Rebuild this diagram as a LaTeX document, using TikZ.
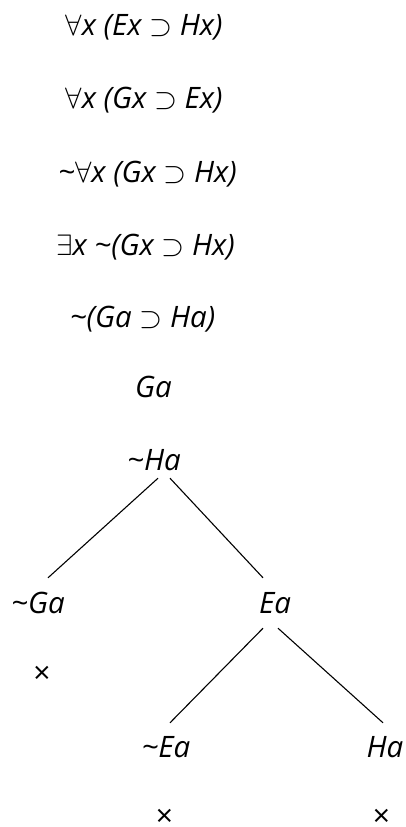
\RequirePackage{fix-cm}
\documentclass[tikz,border=0pt]{standalone}
\usepackage{fontspec}
\setmainfont{Open Sans}
\usepackage{tikz}
\usetikzlibrary{calc}

\begin{document}
\begin{tikzpicture}[x=1pt,y=-1pt,
  line/.style={anchor=base,inner sep=0pt,font=\fontsize{29.5}{35}\selectfont\itshape},
  branch/.style={line,text height=21pt,text depth=0pt},
  closed/.style={anchor=center,inner sep=0pt,font=\fontsize{30}{35}\selectfont},
  edge/.style={black,line width=1.1pt}]
  \useasboundingbox (0,0) rectangle (406,827);
  % the premises and the denied conclusion
  \node[line] (l1) at (144,35)  {$\forall$x (Ex $\supset$ Hx)};
  \node[line] (l2) at (144,108) {$\forall$x (Gx $\supset$ Ex)};
  \node[line] (l3) at (147.5,182) {\textasciitilde$\forall$x (Gx $\supset$ Hx)};
  \node[line] (l4) at (145.5,255) {$\exists$x \textasciitilde(Gx $\supset$ Hx)};
  \node[line] (l5) at (142.5,327) {\textasciitilde(Ga $\supset$ Ha)};
  \node[line] (l6) at (153.5,397) {Ga};
  % the tree
  \node[branch] (nHa) at (154,470) {\textasciitilde Ha};
  \node[branch] (nGa) at (38,613)  {\textasciitilde Ga};
  \node[branch] (Ea)  at (275,613) {Ea};
  \node[branch] (nEa) at (166,757) {\textasciitilde Ea};
  \node[branch] (Ha)  at (385,757) {Ha};
  \node[closed] (x1) at (42,675)    {×};
  \node[closed] (x2) at (164.5,818) {×};
  \node[closed] (x3) at (381.5,818) {×};
  \draw[edge] ($(nHa.south)+(4,8)$)  -- ($(nGa.north)+(10,-14)$);
  \draw[edge] ($(nHa.south)+(16,8)$) -- ($(Ea.north)+(-12,-14)$);
  \draw[edge] ($(Ea.south)+(-12,15)$) -- ($(nEa.north)+(4,-13)$);
  \draw[edge] ($(Ea.south)+(3,15)$)   -- ($(Ha.north)+(-2,-13)$);
\end{tikzpicture}
\end{document}
